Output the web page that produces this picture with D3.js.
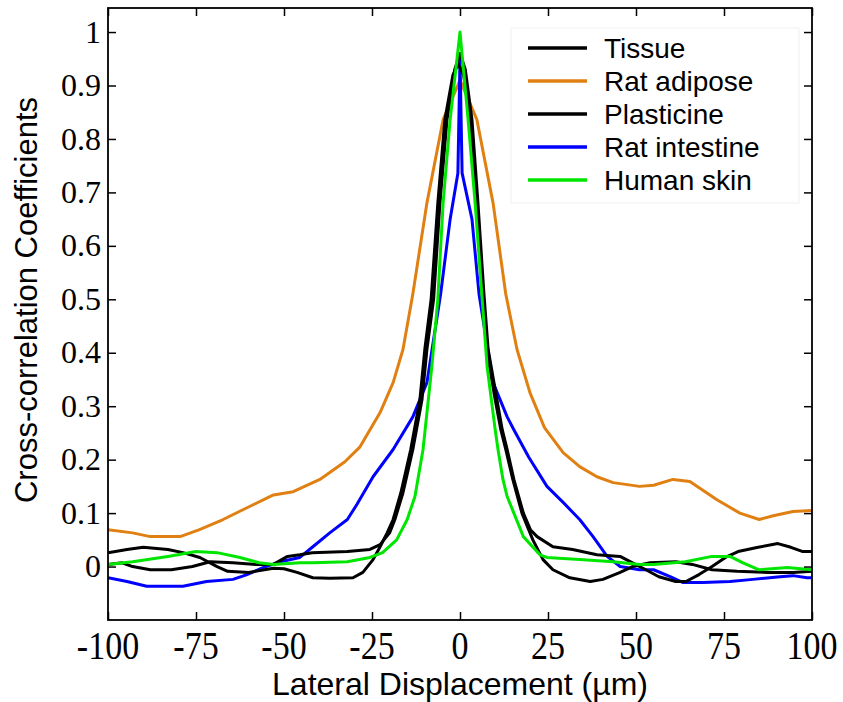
<!DOCTYPE html>
<html>
<head>
<meta charset="utf-8">
<script src="https://cdn.jsdelivr.net/npm/d3@7"></script>
<style>
  html, body { margin: 0; padding: 0; background: #fff; }
  svg { display: block; }
  .tick-label { font-family: 'Liberation Serif', 'Times New Roman', serif; font-size: 32px; fill: #000; }
  .tick-label.x { font-size: 34px; }
  .axis-title { font-family: 'Liberation Sans', Arial, sans-serif; font-size: 31px; fill: #000; }
  .axis-title.x { font-size: 32px; }
  .legend text { font-family: 'Liberation Sans', Arial, sans-serif; font-size: 28px; fill: #000; }
  .curve { fill: none; stroke-width: 3; stroke-linejoin: round; }
</style>
</head>
<body>
<script>
// values: [lateral displacement (µm), coefficient]
const tissue = [
  [-100, 0.004], [-96, 0.007], [-93, 0.0], [-88, -0.006], [-82, -0.006], [-76, 0.0], [-71, 0.009],
  [-64.5, 0.007], [-58, 0.004], [-53, 0.004], [-49, 0.019], [-45.5, 0.022], [-42, 0.026], [-32, 0.028],
  [-25.6, 0.032], [-22.7, 0.041], [-20, 0.063], [-18.5, 0.088], [-16.2, 0.138], [-13.4, 0.219],
  [-10.8, 0.312], [-9.4, 0.406], [-7.5, 0.5], [-5.7, 0.68], [-3.7, 0.836], [-1.5, 0.93], [0, 0.96],
  [1.5, 0.93], [3.4, 0.836], [5.1, 0.68], [6.8, 0.51], [8, 0.406], [10.5, 0.312], [12, 0.256],
  [13.4, 0.219], [15.3, 0.163], [18, 0.1], [20, 0.069], [21.9, 0.056], [26.4, 0.037], [32, 0.032],
  [38.9, 0.022], [45.5, 0.019], [49, 0.007], [52.8, -0.006], [56.5, -0.019], [61.3, -0.028],
  [64.2, -0.028], [67.9, -0.015], [71.6, 0.0], [75.4, 0.017], [79, 0.028], [84.7, 0.036], [90.3, 0.043],
  [94, 0.036], [97.4, 0.028], [100, 0.028]
];
const ratAdipose = [
  [-100, 0.069], [-93, 0.063], [-88, 0.056], [-79.5, 0.056], [-74, 0.069], [-67.3, 0.088], [-60.5, 0.11],
  [-53, 0.134], [-47.4, 0.14], [-39.8, 0.163], [-32.7, 0.196], [-28.4, 0.224], [-22.7, 0.288],
  [-19, 0.344], [-16.2, 0.406], [-13.4, 0.51], [-9.4, 0.68], [-4.8, 0.836], [0, 0.91], [4.8, 0.836],
  [9.4, 0.68], [13, 0.51], [16.2, 0.406], [19.9, 0.325], [24, 0.26], [29.3, 0.213], [34, 0.187],
  [38.9, 0.168], [43.5, 0.157], [51, 0.15], [55, 0.152], [60.5, 0.163], [65.3, 0.159], [73, 0.125],
  [79.5, 0.1], [85, 0.088], [89, 0.095], [94.6, 0.103], [100, 0.105]
];
const plasticine = [
  [-100, 0.026], [-94.6, 0.032], [-90, 0.036], [-83, 0.032], [-78.7, 0.026], [-73.9, 0.017], [-69, 0.0],
  [-66, -0.009], [-60, -0.011], [-53, -0.003], [-50, -0.004], [-46.3, -0.011], [-41.8, -0.021],
  [-37, -0.022], [-30.4, -0.021], [-27.6, -0.011], [-24.7, 0.013], [-22.7, 0.037], [-20.7, 0.063],
  [-19, 0.088], [-16.8, 0.138], [-14, 0.219], [-11.4, 0.312], [-10, 0.406], [-8.2, 0.5], [-6.3, 0.68],
  [-4.3, 0.836], [-2, 0.92], [-0.5, 0.94], [1, 0.92], [3.0, 0.836], [4.6, 0.68], [6.3, 0.51], [7.6, 0.406],
  [10, 0.312], [11.6, 0.256], [13, 0.219], [15, 0.163], [17.6, 0.1], [20.7, 0.05], [23.6, 0.013],
  [26.4, -0.006], [31.2, -0.021], [37, -0.028], [40.6, -0.024], [45.5, -0.011], [49, 0.0], [54, 0.007],
  [61.3, 0.009], [66, 0.004], [71.6, -0.006], [78.7, -0.009], [88, -0.011], [94.6, -0.011], [100, -0.009]
];
const ratIntestine = [
  [-100, -0.021], [-94.6, -0.028], [-89, -0.037], [-78.7, -0.037], [-72, -0.028], [-64.5, -0.024],
  [-60.5, -0.015], [-56, -0.002], [-51, 0.009], [-45.5, 0.017], [-41.8, 0.037], [-37, 0.063],
  [-32, 0.088], [-29.3, 0.116], [-24.7, 0.168], [-19, 0.219], [-13.4, 0.28], [-9.4, 0.344],
  [-5.5, 0.51], [-2.8, 0.65], [-0.6, 0.736], [0, 0.95], [0.6, 0.736], [3.4, 0.65], [5.4, 0.51],
  [9.4, 0.344], [13.4, 0.28], [15.3, 0.256], [19.5, 0.205], [24.7, 0.15], [29.3, 0.12], [34, 0.088],
  [37.8, 0.056], [41.8, 0.019], [45.5, 0.0], [51, -0.006], [55, -0.006], [59.7, -0.019], [63.4, -0.03],
  [69, -0.03], [76.7, -0.028], [83.2, -0.024], [90.9, -0.019], [94.6, -0.017], [98.6, -0.021], [100, -0.021]
];
const humanSkin = [
  [-100, 0.004], [-93, 0.009], [-83, 0.019], [-75, 0.028], [-69, 0.026], [-62.5, 0.017], [-57, 0.007],
  [-53, 0.004], [-45.5, 0.007], [-42, 0.007], [-32, 0.009], [-25.6, 0.017], [-22, 0.026], [-18, 0.05],
  [-15, 0.088], [-12.8, 0.131], [-10.5, 0.219], [-8, 0.374], [-6.3, 0.5], [-4.8, 0.68], [-2.8, 0.836],
  [0, 1.0], [2.3, 0.836], [4.3, 0.68], [6.3, 0.5], [7.7, 0.374], [10, 0.256], [10.8, 0.219], [12.2, 0.163],
  [13.4, 0.131], [15.3, 0.1], [18, 0.056], [22.7, 0.022], [24.7, 0.017], [34, 0.013], [43.5, 0.009],
  [51, 0.004], [55, 0.004], [64, 0.009], [71.6, 0.019], [76.7, 0.019], [80.4, 0.007], [85, -0.006],
  [93, -0.002], [100, -0.006]
];

const seriesNames = ['Tissue', 'Rat adipose', 'Plasticine', 'Rat intestine', 'Human skin'];
const seriesColors = ['#000000', '#e08012', '#000000', '#0000ff', '#00e600'];
const seriesValues = [tissue, ratAdipose, plasticine, ratIntestine, humanSkin];
// draw order: black first, green on top like the reference
const drawOrder = [1, 3, 0, 2, 4];

const xTicks = [-100, -75, -50, -25, 0, 25, 50, 75, 100];
const yTicks = [0, 0.1, 0.2, 0.3, 0.4, 0.5, 0.6, 0.7, 0.8, 0.9, 1];

const W = 843, H = 702;
const plot = { left: 108, right: 812, top: 8, bottom: 620 };

const svg = d3.select('body').append('svg')
  .attr('width', W)
  .attr('height', H);

const x = d3.scaleLinear().domain([-100, 100]).range([plot.left, plot.right]);
const y = d3.scaleLinear().domain([-0.1, 1.045]).range([plot.bottom, plot.top]);

// clip so nothing leaks over the frame
svg.append('clipPath').attr('id', 'clip')
  .append('rect')
  .attr('x', plot.left).attr('y', plot.top)
  .attr('width', plot.right - plot.left).attr('height', plot.bottom - plot.top);

const line = d3.line()
  .x(d => x(d[0]))
  .y(d => y(d[1]));

svg.append('g').attr('clip-path', 'url(#clip)')
  .selectAll('path')
  .data(drawOrder)
  .join('path')
    .attr('class', 'curve')
    .attr('stroke', i => seriesColors[i])
    .attr('d', i => line(seriesValues[i]));

// axes with inward ticks on all four sides
const tickLen = 8;
svg.append('g')
  .attr('transform', `translate(0,${plot.bottom})`)
  .call(d3.axisBottom(x).tickValues(xTicks).tickSizeInner(-tickLen).tickSizeOuter(0).tickFormat(''));
svg.append('g')
  .attr('transform', `translate(0,${plot.top})`)
  .call(d3.axisTop(x).tickValues(xTicks).tickSizeInner(-tickLen).tickSizeOuter(0).tickFormat(''));
svg.append('g')
  .attr('transform', `translate(${plot.left},0)`)
  .call(d3.axisLeft(y).tickValues(yTicks).tickSizeInner(-tickLen).tickSizeOuter(0).tickFormat(''));
svg.append('g')
  .attr('transform', `translate(${plot.right},0)`)
  .call(d3.axisRight(y).tickValues(yTicks).tickSizeInner(-tickLen).tickSizeOuter(0).tickFormat(''));
svg.selectAll('.domain').remove();
svg.selectAll('.tick line').attr('stroke', '#000').attr('stroke-width', 1.5);

svg.append('rect')
  .attr('x', plot.left).attr('y', plot.top)
  .attr('width', plot.right - plot.left).attr('height', plot.bottom - plot.top)
  .attr('fill', 'none').attr('stroke', '#000').attr('stroke-width', 1.8);

// tick labels
svg.append('g').selectAll('text')
  .data(xTicks)
  .join('text')
    .attr('class', 'tick-label x')
    .attr('text-anchor', 'middle')
    .attr('transform', d => `translate(${x(d)},659) scale(1,1.15)`)
    .text(d => d);

svg.append('g').selectAll('text')
  .data(yTicks)
  .join('text')
    .attr('class', 'tick-label')
    .attr('text-anchor', 'end')
    .attr('x', 101)
    .attr('y', d => y(d))
    .attr('dy', '0.33em')
    .text(d => d);

// axis titles
svg.append('text')
  .attr('class', 'axis-title x')
  .attr('text-anchor', 'middle')
  .attr('x', 460).attr('y', 695)
  .text('Lateral Displacement (µm)');

svg.append('text')
  .attr('class', 'axis-title')
  .attr('text-anchor', 'middle')
  .attr('transform', 'translate(37,300) rotate(-90)')
  .text('Cross-correlation Coefficients');

// legend
const legend = svg.append('g').attr('class', 'legend');
legend.append('rect')
  .attr('x', 511).attr('y', 28)
  .attr('width', 288).attr('height', 175)
  .attr('fill', '#fff').attr('stroke', '#f0f0f0').attr('stroke-width', 1);

const item = legend.selectAll('g.item')
  .data(seriesNames)
  .join('g')
    .attr('class', 'item')
    .attr('transform', (d, i) => `translate(0,${48 + i * 33})`);
item.append('line')
  .attr('x1', 528).attr('x2', 587)
  .attr('stroke', (d, i) => seriesColors[i])
  .attr('stroke-width', 3.5);
item.append('text')
  .attr('x', 604)
  .attr('dy', '0.35em')
  .text(d => d);
</script>
</body>
</html>
